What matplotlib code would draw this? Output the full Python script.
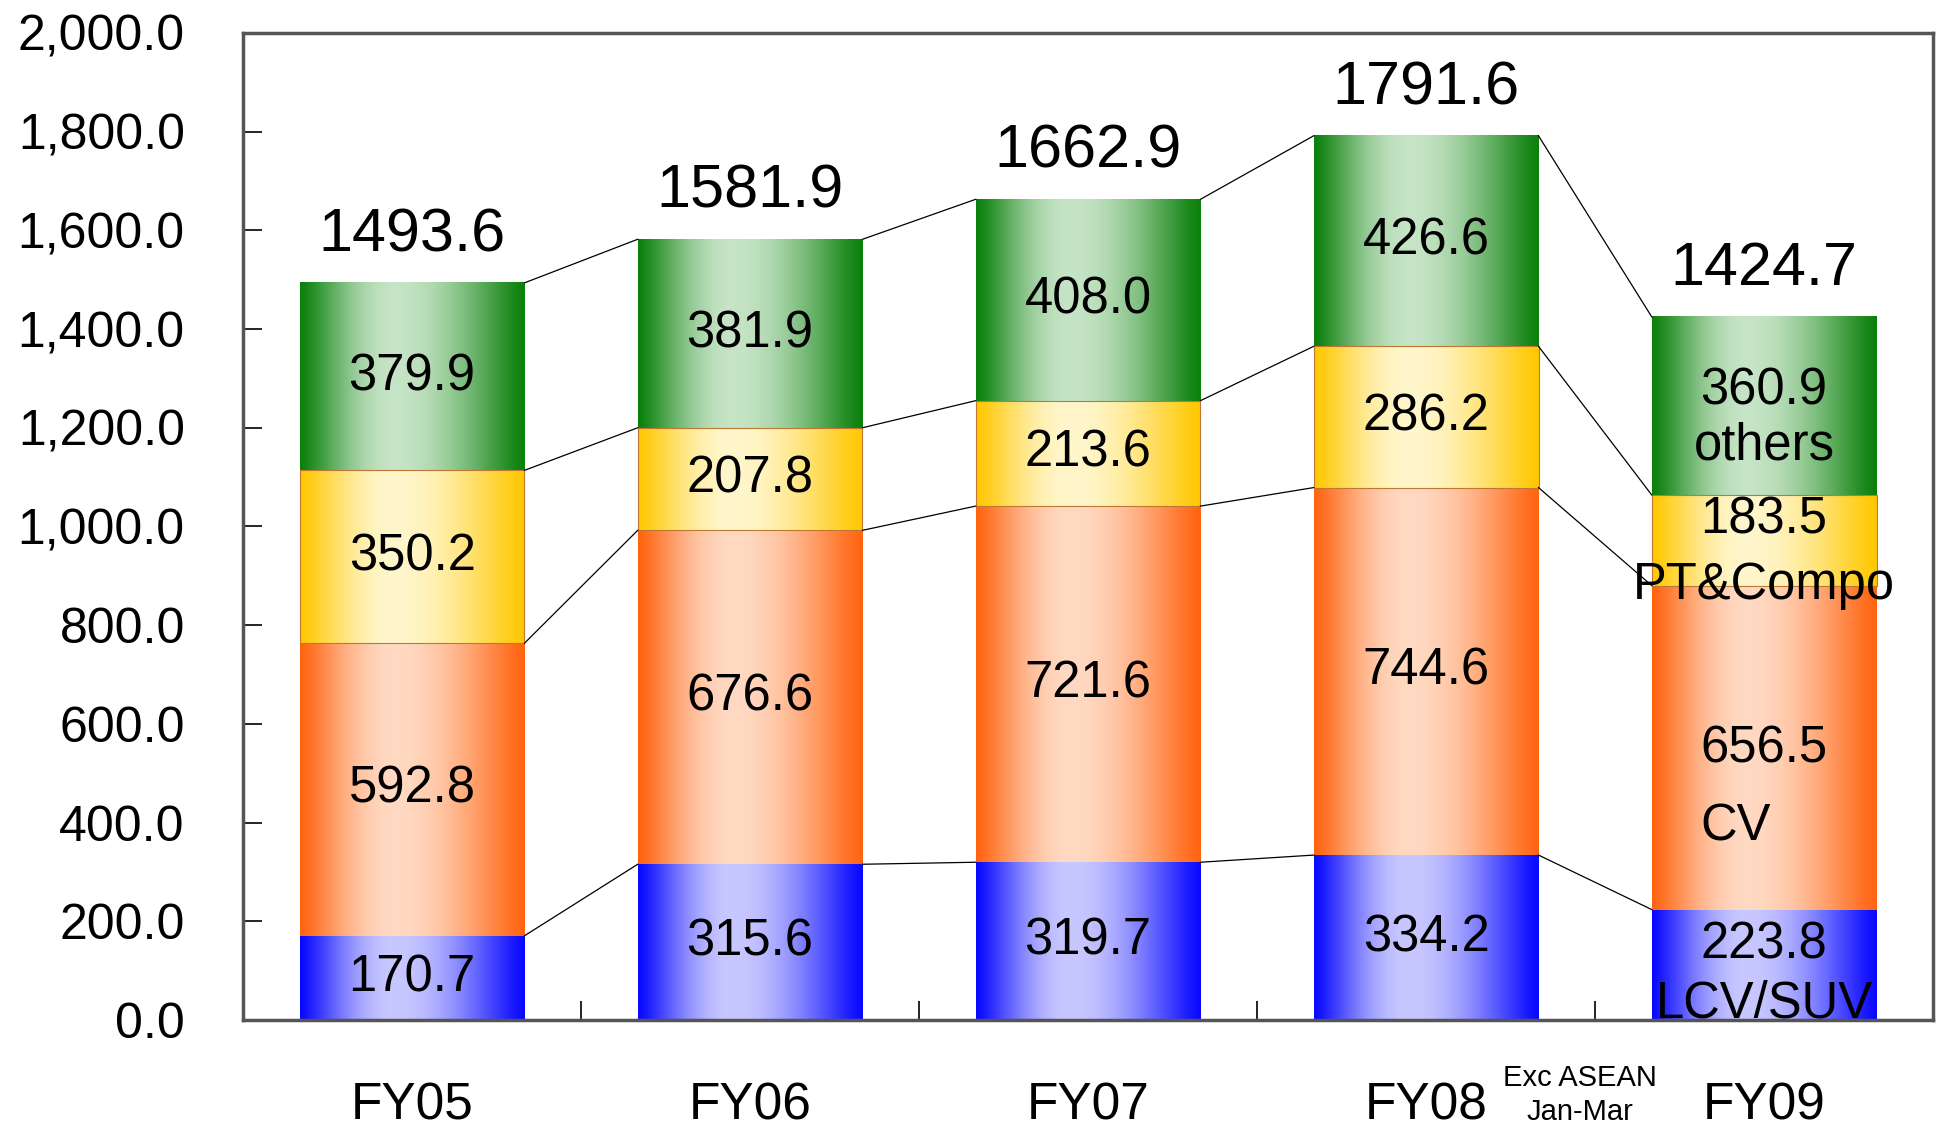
import numpy as np
import matplotlib
matplotlib.use('Agg')
import matplotlib.pyplot as plt
import matplotlib.colors as mcolors
import matplotlib.transforms as mtransforms
from matplotlib.ticker import FuncFormatter, FixedLocator

# data
years = ['FY05', 'FY06', 'FY07', 'FY08', 'FY09']
lcv_suv = [170.7, 315.6, 319.7, 334.2, 223.8]
cv = [592.8, 676.6, 721.6, 744.6, 656.5]
pt_compo = [350.2, 207.8, 213.6, 286.2, 183.5]
others = [379.9, 381.9, 408.0, 426.6, 360.9]
totals = [1493.6, 1581.9, 1662.9, 1791.6, 1424.7]
series_names = ['LCV/SUV', 'CV', 'PT&Compo', 'others']
yticks = np.arange(0, 2001, 200)
note = 'Exc ASEAN\nJan-Mar'

plt.rcParams['font.family'] = ['Liberation Sans', 'DejaVu Sans']

# (edge colour, light centre colour) for each series
grad_colors = [('#0808FF', '#C8C8FF'),
               ('#FF6410', '#FFD9C2'),
               ('#FFC800', '#FFF6CC'),
               ('#0A800A', '#C6E4C6')]


def gradient_img(edge, center, n=256, c=0.42):
    t = np.linspace(0, 1, n)
    s = np.where(t < c, t / c, (1 - t) / (1 - c))
    f = np.sin(s * np.pi / 2) ** 1.2
    e = np.array(mcolors.to_rgb(edge))
    m = np.array(mcolors.to_rgb(center))
    rgb = e[None, :] + (m - e)[None, :] * f[:, None]
    return rgb[None, :, :]


fig = plt.figure(figsize=(19.37, 11.35), dpi=100)
ax = fig.add_axes([0.1255, 0.1013, 0.8725, 0.8697])

x = np.arange(len(years))
width = 0.665
series = [lcv_suv, cv, pt_compo, others]
bottoms = np.zeros(len(years))
cum_levels = []
containers = []
for k, vals in enumerate(series):
    bars = ax.bar(x, vals, width, bottom=bottoms, facecolor='none',
                  edgecolor='none', zorder=3)
    img = gradient_img(*grad_colors[k])
    for p in bars.patches:
        x0, y0 = p.get_xy()
        ax.imshow(img, extent=(x0, x0 + p.get_width(), y0, y0 + p.get_height()),
                  aspect='auto', interpolation='bilinear', zorder=2)
        if k == 2:
            p.set_edgecolor('#C07830')
            p.set_linewidth(0.8)
    containers.append(bars)
    bottoms = bottoms + np.array(vals)
    cum_levels.append(bottoms.copy())

# series lines between bars
for lev in cum_levels:
    for i in range(len(years) - 1):
        ax.plot([x[i] + width / 2, x[i + 1] - width / 2], [lev[i], lev[i + 1]],
                color='black', lw=0.9, zorder=4)

# segment labels; last bar also carries the series name
last = len(years) - 1
last_offsets = [-7, -29, -9, -9]
last_spacing = [1.25, 1.75, 1.45, 1.15]
for k, bars in enumerate(containers):
    for i, p in enumerate(bars.patches):
        cx = p.get_x() + p.get_width() / 2
        cy = p.get_y() + p.get_height() / 2
        if i == last:
            ax.annotate(f'{series[k][i]:.1f}\n{series_names[k]}', (cx, cy),
                        xytext=(0, last_offsets[k]), textcoords='offset points',
                        ha='center', va='center', multialignment='left' if k == 1 else 'center',
                        linespacing=last_spacing[k], fontsize=36.5, zorder=6)
        else:
            ax.text(cx, cy, f'{series[k][i]:.1f}', ha='center', va='center',
                    fontsize=36.5, zorder=6)

for i, t in enumerate(totals):
    ax.annotate(f'{t:.1f}', (x[i], t), xytext=(0, 34), textcoords='offset points',
                ha='center', va='center', fontsize=44)

ax.set_xlim(-0.5, len(years) - 0.5)
ax.set_ylim(0, 2000)

ax.set_yticks(yticks)
ax.yaxis.set_major_formatter(FuncFormatter(lambda v, pos: f'{v:,.1f}'))
ax.tick_params(axis='y', direction='in', length=14, width=1.2, pad=42, labelsize=36)

ax.set_xticks(x)
ax.set_xticklabels(years)
ax.xaxis.set_minor_locator(FixedLocator(x[:-1] + 0.5))
ax.tick_params(axis='x', which='major', length=0, pad=62, labelsize=37)
ax.tick_params(axis='x', which='minor', direction='in', length=14, width=1.2)
for lbl in ax.get_xticklabels():
    lbl.set_va('center')

trans = mtransforms.blended_transform_factory(ax.transData, ax.transAxes)
ax.text(3.455, -0.076, note, transform=trans, ha='center', va='center',
        fontsize=21, linespacing=1.25)

for sp in ax.spines.values():
    sp.set_color('#555555')
    sp.set_linewidth(2.5)

fig.savefig('out.png', dpi=100)
